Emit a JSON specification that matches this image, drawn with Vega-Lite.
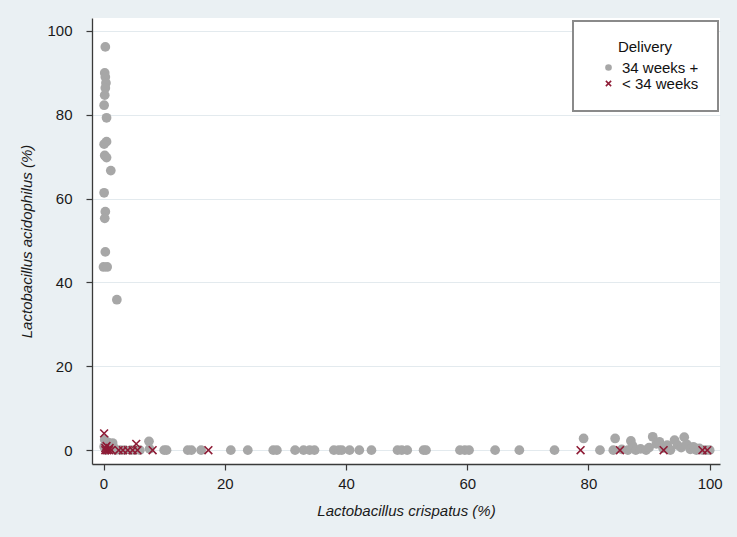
{
  "$schema": "https://vega.github.io/schema/vega-lite/v6.json",
  "width": 628,
  "height": 446,
  "autosize": {"type": "none"},
  "padding": {"left": 92, "top": 18, "right": 17, "bottom": 73},
  "background": "#eaf0f3",
  "config": {
    "font": "Liberation Sans",
    "view": {"fill": "white", "stroke": null},
    "axis": {
      "labelFontSize": 15,
      "labelColor": "#1a1a1a",
      "titleFontSize": 15,
      "titleFontStyle": "italic",
      "titleFontWeight": "normal",
      "titleColor": "#1a1a1a",
      "domainColor": "#3a3a3a",
      "domainWidth": 1.3,
      "tickColor": "#3a3a3a",
      "tickSize": 6,
      "tickWidth": 1.2
    },
    "legend": {
      "strokeWidth": 2,
      "orient": "none",
      "legendX": 481,
      "legendY": 3,
      "fillColor": "white",
      "strokeColor": "#8a8a8a",
      "padding": 19,
      "titleFontSize": 15,
      "titleFontWeight": "normal",
      "titleColor": "#111",
      "titleAnchor": "middle",
      "titleAlign": "center",
      "titlePadding": 5,
      "labelFontSize": 15,
      "labelColor": "#111",
      "symbolSize": 44,
      "symbolStrokeWidth": 1.5,
      "symbolOffset": 9,
      "rowPadding": 0,
      "labelOffset": 6
    }
  },
  "data": {
    "values": [
      {"crispatus": 0.3, "acidophilus": 96.2, "delivery": "34 weeks +"},
      {"crispatus": 0.2, "acidophilus": 90.0, "delivery": "34 weeks +"},
      {"crispatus": 0.3, "acidophilus": 89.0, "delivery": "34 weeks +"},
      {"crispatus": 0.4, "acidophilus": 87.6, "delivery": "34 weeks +"},
      {"crispatus": 0.3, "acidophilus": 86.4, "delivery": "34 weeks +"},
      {"crispatus": 0.2, "acidophilus": 84.7, "delivery": "34 weeks +"},
      {"crispatus": 0.1, "acidophilus": 82.3, "delivery": "34 weeks +"},
      {"crispatus": 0.5, "acidophilus": 79.3, "delivery": "34 weeks +"},
      {"crispatus": 0.5, "acidophilus": 73.6, "delivery": "34 weeks +"},
      {"crispatus": 0.1, "acidophilus": 73.0, "delivery": "34 weeks +"},
      {"crispatus": 0.2, "acidophilus": 70.3, "delivery": "34 weeks +"},
      {"crispatus": 0.5, "acidophilus": 69.8, "delivery": "34 weeks +"},
      {"crispatus": 1.2, "acidophilus": 66.7, "delivery": "34 weeks +"},
      {"crispatus": 0.1, "acidophilus": 61.4, "delivery": "34 weeks +"},
      {"crispatus": 0.3, "acidophilus": 56.9, "delivery": "34 weeks +"},
      {"crispatus": 0.2, "acidophilus": 55.3, "delivery": "34 weeks +"},
      {"crispatus": 0.3, "acidophilus": 47.3, "delivery": "34 weeks +"},
      {"crispatus": 0.0, "acidophilus": 43.7, "delivery": "34 weeks +"},
      {"crispatus": 0.6, "acidophilus": 43.7, "delivery": "34 weeks +"},
      {"crispatus": 2.2, "acidophilus": 35.9, "delivery": "34 weeks +"},
      {"crispatus": 0.2, "acidophilus": 2.5, "delivery": "34 weeks +"},
      {"crispatus": 0.8, "acidophilus": 1.8, "delivery": "34 weeks +"},
      {"crispatus": 1.5, "acidophilus": 1.7, "delivery": "34 weeks +"},
      {"crispatus": 0.1, "acidophilus": 0.8, "delivery": "34 weeks +"},
      {"crispatus": 0.4, "acidophilus": 0.0, "delivery": "34 weeks +"},
      {"crispatus": 1.0, "acidophilus": 0.4, "delivery": "34 weeks +"},
      {"crispatus": 1.8, "acidophilus": 0.5, "delivery": "34 weeks +"},
      {"crispatus": 2.0, "acidophilus": 0.0, "delivery": "34 weeks +"},
      {"crispatus": 2.8, "acidophilus": 0.0, "delivery": "34 weeks +"},
      {"crispatus": 3.5, "acidophilus": 0.0, "delivery": "34 weeks +"},
      {"crispatus": 4.5, "acidophilus": 0.0, "delivery": "34 weeks +"},
      {"crispatus": 5.2, "acidophilus": 0.0, "delivery": "34 weeks +"},
      {"crispatus": 6.0, "acidophilus": 0.0, "delivery": "34 weeks +"},
      {"crispatus": 7.5, "acidophilus": 2.1, "delivery": "34 weeks +"},
      {"crispatus": 7.6, "acidophilus": 0.3, "delivery": "34 weeks +"},
      {"crispatus": 10.0, "acidophilus": 0.0, "delivery": "34 weeks +"},
      {"crispatus": 10.4, "acidophilus": 0.0, "delivery": "34 weeks +"},
      {"crispatus": 13.9, "acidophilus": 0.0, "delivery": "34 weeks +"},
      {"crispatus": 14.5, "acidophilus": 0.0, "delivery": "34 weeks +"},
      {"crispatus": 16.1, "acidophilus": 0.0, "delivery": "34 weeks +"},
      {"crispatus": 21.0, "acidophilus": 0.0, "delivery": "34 weeks +"},
      {"crispatus": 23.8, "acidophilus": 0.0, "delivery": "34 weeks +"},
      {"crispatus": 28.0, "acidophilus": 0.0, "delivery": "34 weeks +"},
      {"crispatus": 28.6, "acidophilus": 0.0, "delivery": "34 weeks +"},
      {"crispatus": 31.6, "acidophilus": 0.0, "delivery": "34 weeks +"},
      {"crispatus": 33.0, "acidophilus": 0.0, "delivery": "34 weeks +"},
      {"crispatus": 34.0, "acidophilus": 0.0, "delivery": "34 weeks +"},
      {"crispatus": 34.8, "acidophilus": 0.0, "delivery": "34 weeks +"},
      {"crispatus": 38.0, "acidophilus": 0.0, "delivery": "34 weeks +"},
      {"crispatus": 38.8, "acidophilus": 0.0, "delivery": "34 weeks +"},
      {"crispatus": 39.3, "acidophilus": 0.0, "delivery": "34 weeks +"},
      {"crispatus": 40.6, "acidophilus": 0.0, "delivery": "34 weeks +"},
      {"crispatus": 42.2, "acidophilus": 0.0, "delivery": "34 weeks +"},
      {"crispatus": 44.2, "acidophilus": 0.0, "delivery": "34 weeks +"},
      {"crispatus": 48.5, "acidophilus": 0.0, "delivery": "34 weeks +"},
      {"crispatus": 49.2, "acidophilus": 0.0, "delivery": "34 weeks +"},
      {"crispatus": 50.1, "acidophilus": 0.0, "delivery": "34 weeks +"},
      {"crispatus": 52.8, "acidophilus": 0.0, "delivery": "34 weeks +"},
      {"crispatus": 53.2, "acidophilus": 0.0, "delivery": "34 weeks +"},
      {"crispatus": 58.8, "acidophilus": 0.0, "delivery": "34 weeks +"},
      {"crispatus": 59.6, "acidophilus": 0.0, "delivery": "34 weeks +"},
      {"crispatus": 60.3, "acidophilus": 0.0, "delivery": "34 weeks +"},
      {"crispatus": 64.6, "acidophilus": 0.0, "delivery": "34 weeks +"},
      {"crispatus": 68.6, "acidophilus": 0.0, "delivery": "34 weeks +"},
      {"crispatus": 74.4, "acidophilus": 0.0, "delivery": "34 weeks +"},
      {"crispatus": 79.2, "acidophilus": 2.8, "delivery": "34 weeks +"},
      {"crispatus": 81.9, "acidophilus": 0.0, "delivery": "34 weeks +"},
      {"crispatus": 84.1, "acidophilus": 0.0, "delivery": "34 weeks +"},
      {"crispatus": 84.4, "acidophilus": 2.8, "delivery": "34 weeks +"},
      {"crispatus": 85.5, "acidophilus": 0.2, "delivery": "34 weeks +"},
      {"crispatus": 86.5, "acidophilus": 0.0, "delivery": "34 weeks +"},
      {"crispatus": 87.0, "acidophilus": 2.2, "delivery": "34 weeks +"},
      {"crispatus": 87.3, "acidophilus": 1.0, "delivery": "34 weeks +"},
      {"crispatus": 87.8, "acidophilus": 0.0, "delivery": "34 weeks +"},
      {"crispatus": 88.6, "acidophilus": 0.3, "delivery": "34 weeks +"},
      {"crispatus": 89.5, "acidophilus": 0.0, "delivery": "34 weeks +"},
      {"crispatus": 90.0, "acidophilus": 0.6, "delivery": "34 weeks +"},
      {"crispatus": 90.6, "acidophilus": 3.2, "delivery": "34 weeks +"},
      {"crispatus": 91.2, "acidophilus": 1.5, "delivery": "34 weeks +"},
      {"crispatus": 91.7, "acidophilus": 2.0, "delivery": "34 weeks +"},
      {"crispatus": 92.3, "acidophilus": 0.5, "delivery": "34 weeks +"},
      {"crispatus": 93.0, "acidophilus": 1.2, "delivery": "34 weeks +"},
      {"crispatus": 93.5, "acidophilus": 0.0, "delivery": "34 weeks +"},
      {"crispatus": 94.2, "acidophilus": 2.4, "delivery": "34 weeks +"},
      {"crispatus": 94.7, "acidophilus": 1.2, "delivery": "34 weeks +"},
      {"crispatus": 95.3, "acidophilus": 0.6, "delivery": "34 weeks +"},
      {"crispatus": 95.8, "acidophilus": 3.1, "delivery": "34 weeks +"},
      {"crispatus": 96.2, "acidophilus": 1.4, "delivery": "34 weeks +"},
      {"crispatus": 96.8, "acidophilus": 0.2, "delivery": "34 weeks +"},
      {"crispatus": 97.3, "acidophilus": 0.8, "delivery": "34 weeks +"},
      {"crispatus": 97.8, "acidophilus": 0.0, "delivery": "34 weeks +"},
      {"crispatus": 98.3, "acidophilus": 0.4, "delivery": "34 weeks +"},
      {"crispatus": 98.8, "acidophilus": 0.0, "delivery": "34 weeks +"},
      {"crispatus": 99.4, "acidophilus": 0.0, "delivery": "34 weeks +"},
      {"crispatus": 100.0, "acidophilus": 0.0, "delivery": "34 weeks +"},
      {"crispatus": 0.1, "acidophilus": 4.0, "delivery": "< 34 weeks"},
      {"crispatus": 0.3, "acidophilus": 0.0, "delivery": "< 34 weeks"},
      {"crispatus": 0.6, "acidophilus": 0.0, "delivery": "< 34 weeks"},
      {"crispatus": 0.9, "acidophilus": 0.0, "delivery": "< 34 weeks"},
      {"crispatus": 0.5, "acidophilus": 1.0, "delivery": "< 34 weeks"},
      {"crispatus": 1.0, "acidophilus": 0.5, "delivery": "< 34 weeks"},
      {"crispatus": 0.3, "acidophilus": 0.5, "delivery": "< 34 weeks"},
      {"crispatus": 1.3, "acidophilus": 0.0, "delivery": "< 34 weeks"},
      {"crispatus": 2.5, "acidophilus": 0.0, "delivery": "< 34 weeks"},
      {"crispatus": 3.2, "acidophilus": 0.0, "delivery": "< 34 weeks"},
      {"crispatus": 4.0, "acidophilus": 0.0, "delivery": "< 34 weeks"},
      {"crispatus": 4.8, "acidophilus": 0.0, "delivery": "< 34 weeks"},
      {"crispatus": 5.6, "acidophilus": 0.0, "delivery": "< 34 weeks"},
      {"crispatus": 5.4, "acidophilus": 1.5, "delivery": "< 34 weeks"},
      {"crispatus": 8.1, "acidophilus": 0.0, "delivery": "< 34 weeks"},
      {"crispatus": 17.3, "acidophilus": 0.0, "delivery": "< 34 weeks"},
      {"crispatus": 78.7, "acidophilus": 0.0, "delivery": "< 34 weeks"},
      {"crispatus": 85.2, "acidophilus": 0.0, "delivery": "< 34 weeks"},
      {"crispatus": 92.4, "acidophilus": 0.0, "delivery": "< 34 weeks"},
      {"crispatus": 98.8, "acidophilus": 0.0, "delivery": "< 34 weeks"},
      {"crispatus": 99.6, "acidophilus": 0.0, "delivery": "< 34 weeks"}
    ]
  },
  "mark": {"type": "point", "size": 95, "strokeWidth": 1.6, "opacity": 1},
  "encoding": {
    "x": {
      "field": "crispatus",
      "type": "quantitative",
      "scale": {"domain": [-1.9, 101.7], "nice": false, "zero": false},
      "axis": {
        "title": "Lactobacillus crispatus (%)",
        "values": [0, 20, 40, 60, 80, 100],
        "grid": false,
        "labelPadding": 6,
        "titlePadding": 12
      }
    },
    "y": {
      "field": "acidophilus",
      "type": "quantitative",
      "scale": {"domain": [-3.3, 103.1], "nice": false, "zero": false},
      "axis": {
        "title": "Lactobacillus acidophilus (%)",
        "values": [0, 20, 40, 60, 80, 100],
        "grid": true,
        "gridColor": "#e3eaee",
        "gridWidth": 1,
        "labelPadding": 14,
        "titlePadding": 12
      }
    },
    "fill": {
      "field": "delivery",
      "type": "nominal",
      "scale": {"domain": ["34 weeks +", "< 34 weeks"], "range": ["#a7a7a7", "transparent"]},
      "legend": {"title": "Delivery"}
    },
    "stroke": {
      "field": "delivery",
      "type": "nominal",
      "scale": {"domain": ["34 weeks +", "< 34 weeks"], "range": ["transparent", "#8e1c36"]},
      "legend": {"title": "Delivery"}
    },
    "shape": {
      "field": "delivery",
      "type": "nominal",
      "scale": {"domain": ["34 weeks +", "< 34 weeks"], "range": ["circle", "M-0.8,-0.8L0.8,0.8M-0.8,0.8L0.8,-0.8"]},
      "legend": {"title": "Delivery"}
    }
  }
}
